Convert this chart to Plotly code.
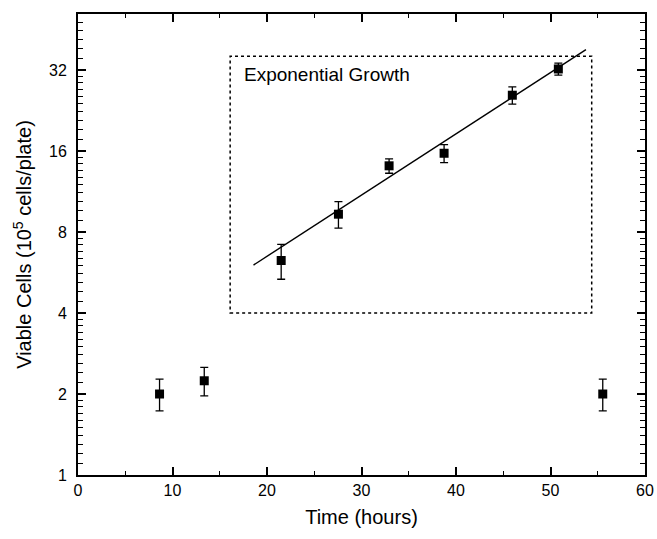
import plotly.graph_objects as go

# Data (time in hours, viable cells in 10^5 cells/plate)
time_h = [8.63, 13.36, 21.5, 27.56, 32.92, 38.74, 45.96, 50.83, 55.53]
cells = [2.0, 2.24, 6.27, 9.32, 14.1, 15.7, 25.8, 32.3, 2.0]
cells_err = [0.27, 0.27, 0.93, 1.05, 0.87, 1.2, 1.9, 1.65, 0.27]

# Exponential fit line endpoints
fit_x = [18.57, 53.75]
fit_y = [6.03, 38.1]

# Inset box (exponential growth region)
box_x = [16.1, 54.36]
box_y = [4.0, 36.0]

y_tickvals = [1, 2, 4, 8, 16, 32]
y_ticktext = ["1", "2", "4", "8", "16", "32"]
x_tickvals = [0, 10, 20, 30, 40, 50, 60]

FONT = "Arial, Liberation Sans, sans-serif"

# minor tick positions (linear steps inside each doubling)
y_minor = []
for base in [1, 2, 4, 8, 16, 32]:
    for j in range(1, 10):
        v = base * (1 + 0.1 * j)
        if v < 51:
            y_minor.append(v)

fig = go.Figure()

fig.add_trace(go.Scatter(
    x=fit_x, y=fit_y, mode="lines",
    line=dict(color="black", width=1.4),
    showlegend=False, hoverinfo="skip",
))

fig.add_trace(go.Scatter(
    x=time_h, y=cells, mode="markers",
    marker=dict(symbol="square", size=9, color="black"),
    error_y=dict(type="data", array=cells_err, visible=True,
                 color="black", thickness=1.3, width=4),
    showlegend=False,
))

fig.add_shape(type="rect", xref="x", yref="y",
              x0=box_x[0], x1=box_x[1], y0=box_y[0], y1=box_y[1],
              line=dict(color="black", width=1.5, dash="dot"))

fig.add_annotation(text="Exponential Growth", xref="x", yref="y",
                   x=17.4, y=1.49, xanchor="left", yanchor="middle",
                   showarrow=False, font=dict(family=FONT, size=19, color="black"))

fig.update_layout(
    width=657, height=539,
    margin=dict(l=78, r=12, t=14, b=64),
    paper_bgcolor="white", plot_bgcolor="white",
    font=dict(family=FONT, color="black"),
    xaxis=dict(
        range=[0, 60], tickvals=x_tickvals,
        showline=True, linecolor="black", linewidth=2, mirror="allticks",
        ticks="inside", ticklen=8, tickwidth=1.5, tickcolor="black",
        minor=dict(tickvals=[5, 15, 25, 35, 45, 55], ticks="inside", ticklen=4,
                   tickwidth=1.3, tickcolor="black"),
        showgrid=False, zeroline=False, automargin=False,
        tickfont=dict(family=FONT, size=16, color="black"),
        title=dict(text="Time (hours)", font=dict(family=FONT, size=20, color="black"), standoff=12),
    ),
    yaxis=dict(
        type="log", range=[0, 1.7135],
        tickvals=y_tickvals, ticktext=y_ticktext,
        showline=True, linecolor="black", linewidth=2, mirror="allticks",
        ticks="inside", ticklen=8, tickwidth=1.5, tickcolor="black",
        minor=dict(tickvals=y_minor, ticks="inside", ticklen=5,
                   tickwidth=1.3, tickcolor="black"),
        showgrid=False, zeroline=False, automargin=False,
        tickfont=dict(family=FONT, size=16, color="black"),
        ticklabelstandoff=6,
        title=dict(text="Viable Cells (10<sup>5</sup> cells/plate)",
                   font=dict(family=FONT, size=20, color="black"), standoff=12),
    ),
)

fig.write_html(
    "out.html",
    config={"displayModeBar": False},
    post_script="document.body.style.margin='0';document.body.style.overflow='hidden';",
)
